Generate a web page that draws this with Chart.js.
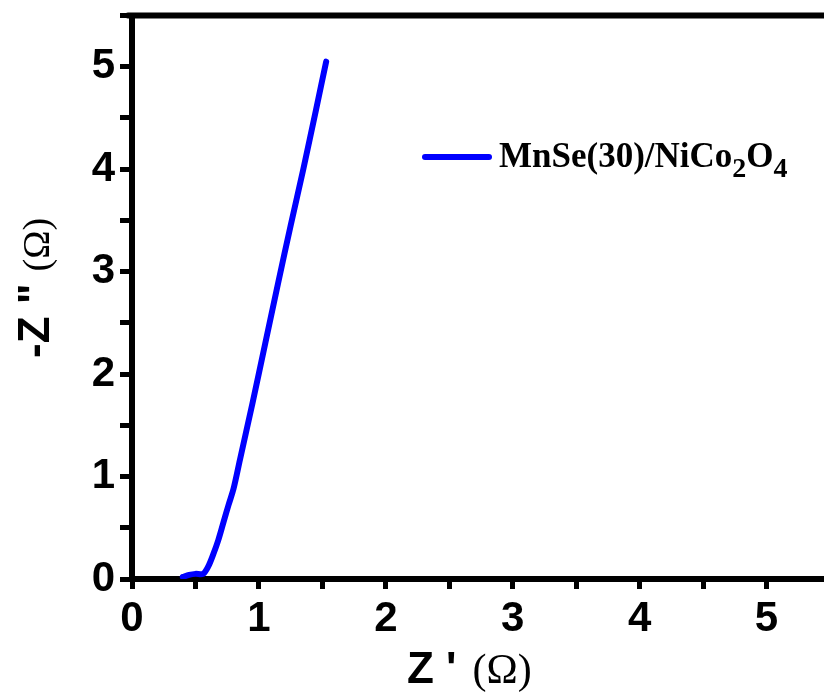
<!DOCTYPE html>
<html>
<head>
<meta charset="utf-8">
<script src="https://cdn.jsdelivr.net/npm/chart.js@4"></script>
<style>
  html, body { margin: 0; padding: 0; background: #fff; overflow: hidden; }
  #wrap { width: 824px; height: 698px; overflow: hidden; }
</style>
</head>
<body>
<div id="wrap">
  <canvas id="myChart" width="860" height="698"></canvas>
</div>
<script>
// Nyquist data
const zReal = [0.40, 0.45, 0.50, 0.56, 0.60, 0.64, 0.68, 0.72, 0.76, 0.80, 0.85, 0.95, 1.05, 1.15, 1.25, 1.35, 1.45, 1.53];
const zImag = [0.02, 0.04, 0.05, 0.05, 0.12, 0.24, 0.38, 0.55, 0.72, 0.88, 1.16, 1.72, 2.30, 2.88, 3.45, 4.00, 4.58, 5.05];

const seriesName = ["MnSe(30)/NiCo", "2", "O", "4"]; // text, sub, text, sub
const xTitle = ["Z '", "(Ω)"];
const yTitle = ["-Z \"", "(Ω)"];
const xMax = 5.5;
const yMax = 5.5;

const sans = "'Liberation Sans', Arial, sans-serif";
const serif = "'Liberation Serif', 'Times New Roman', serif";

const extras = {
  id: "extras",
  afterDraw(chart) {
    const ctx = chart.ctx;
    const a = chart.chartArea;
    ctx.save();

    // top frame line
    ctx.strokeStyle = "#000";
    ctx.lineWidth = 6;
    ctx.lineCap = "round";
    ctx.beginPath();
    ctx.moveTo(a.left - 4, a.top);
    ctx.lineTo(a.right, a.top);
    ctx.stroke();

    // legend
    ctx.strokeStyle = "#0000ff";
    ctx.lineWidth = 6;
    ctx.beginPath();
    ctx.moveTo(425, 157);
    ctx.lineTo(489, 157);
    ctx.stroke();

    ctx.fillStyle = "#000";
    ctx.textBaseline = "alphabetic";
    ctx.textAlign = "left";
    let x = 499;
    const base = 167;
    seriesName.forEach((part, i) => {
      const sub = i % 2 === 1;
      ctx.font = "bold " + (sub ? 28 : 35) + "px " + serif;
      ctx.fillText(part, x, sub ? base + 10 : base);
      x += ctx.measureText(part).width;
    });

    // x title
    ctx.font = "bold 44px " + sans;
    const w1 = ctx.measureText(xTitle[0]).width;
    ctx.fillText(xTitle[0], 407, 683);
    ctx.font = "42px " + serif;
    ctx.fillText(xTitle[1], 407 + w1 + 16, 683);

    // y title
    ctx.translate(49, 358);
    ctx.rotate(-Math.PI / 2);
    ctx.font = "bold 44px " + sans;
    const w2 = ctx.measureText(yTitle[0]).width;
    ctx.fillText(yTitle[0], 0, 0);
    ctx.font = "38px " + serif;
    ctx.fillText(yTitle[1], w2 + 12, 0);

    ctx.restore();
  }
};

const noPad = (s) => {
  s.paddingTop = 0;
  s.paddingBottom = 0;
  s.paddingLeft = 0;
  s.paddingRight = 0;
};

const ctx = document.getElementById("myChart").getContext("2d");
new Chart(ctx, {
  type: "line",
  data: {
    datasets: [
      {
        label: seriesName.join(""),
        data: zReal.map((v, i) => ({ x: v, y: zImag[i] })),
        borderColor: "#0000ff",
        borderWidth: 6,
        borderCapStyle: "round",
        borderJoinStyle: "round",
        pointRadius: 0,
        tension: 0.3,
        fill: false,
      },
    ],
  },
  options: {
    responsive: false,
    animation: false,
    layout: { padding: { top: 15.5, right: 30, left: 0, bottom: 0 } },
    plugins: {
      legend: { display: false },
      tooltip: { enabled: false },
    },
    scales: {
      x: {
        type: "linear",
        min: 0,
        max: xMax,
        afterFit: (s) => { s.height = 119; noPad(s); },
        border: { display: true, color: "#000", width: 6 },
        grid: {
          drawOnChartArea: false,
          drawTicks: true,
          tickLength: 10,
          tickWidth: 5,
          tickColor: "#000",
        },
        ticks: {
          stepSize: 0.5,
          autoSkip: false,
          maxRotation: 0,
          padding: 5,
          color: "#000",
          font: { family: sans, size: 42, weight: "bold" },
          callback: (v) => (Number.isInteger(v) ? v : ""),
        },
      },
      y: {
        min: 0,
        max: yMax,
        afterFit: (s) => { s.width = 132; noPad(s); },
        border: { display: true, color: "#000", width: 6 },
        grid: {
          drawOnChartArea: false,
          drawTicks: true,
          tickLength: 12,
          tickWidth: 5,
          tickColor: "#000",
        },
        ticks: {
          stepSize: 0.5,
          autoSkip: false,
          padding: 5,
          color: "#000",
          font: { family: sans, size: 42, weight: "bold" },
          callback: (v) => (Number.isInteger(v) ? v : ""),
        },
      },
    },
  },
  plugins: [extras],
});
</script>
</body>
</html>
